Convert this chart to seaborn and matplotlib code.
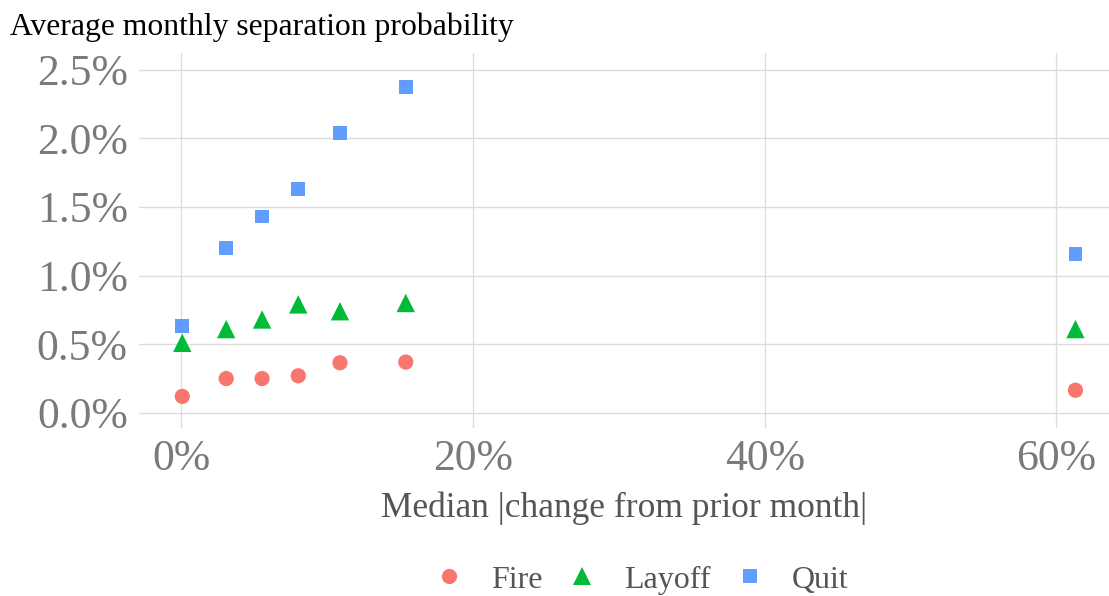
"""
Separation probability vs. median absolute monthly change
"""

import numpy as np
import pandas as pd
import matplotlib
matplotlib.use("Agg")
import matplotlib.pyplot as plt
from matplotlib.ticker import FuncFormatter
import seaborn as sns

# ---------------------------------------------------------------------------
# Data (in percent)
# ---------------------------------------------------------------------------
median_change = [0.07, 3.08, 5.54, 8.02, 10.88, 15.39, 61.3]
fire = [0.12, 0.25, 0.25, 0.27, 0.365, 0.37, 0.165]
layoff = [0.51, 0.61, 0.68, 0.79, 0.74, 0.80, 0.61]
quit_ = [0.63, 1.20, 1.43, 1.63, 2.04, 2.37, 1.155]
types = ["Fire", "Layoff", "Quit"]

df = pd.DataFrame({
    "x": median_change * 3,
    "y": fire + layoff + quit_,
    "type": np.repeat(types, len(median_change)),
})

palette = {"Fire": "#F8766D", "Layoff": "#00BA38", "Quit": "#619CFF"}
markers = {"Fire": "o", "Layoff": "^", "Quit": "s"}
sizes = {"Fire": 120, "Layoff": 175, "Quit": 100}

# ---------------------------------------------------------------------------
# Plot
# ---------------------------------------------------------------------------
sns.set_theme(style="whitegrid")
plt.rcParams["font.family"] = ["Liberation Serif", "DejaVu Serif"]

fig = plt.figure(figsize=(11.09, 5.96), dpi=100)
ax = fig.add_axes([0.1253, 0.2819, 0.8747, 0.6291])

sns.scatterplot(data=df, x="x", y="y", hue="type", style="type", size="type",
                palette=palette, markers=markers, sizes=sizes,
                linewidth=0, ax=ax, legend=True)

ax.set_xlim(-2.9, 63.6)
ax.set_ylim(-0.11, 2.62)
ax.set_xticks([0, 20, 40, 60])
ax.set_yticks([0, 0.5, 1.0, 1.5, 2.0, 2.5])
ax.xaxis.set_major_formatter(FuncFormatter(lambda v, p: f"{v:.0f}%"))
ax.yaxis.set_major_formatter(FuncFormatter(lambda v, p: f"{v:.1f}%"))
ax.tick_params(axis="both", labelsize=31.5, colors="#7a7a7a", length=0)
ax.tick_params(axis="x", pad=8)
ax.tick_params(axis="y", pad=8)
ax.grid(True, color="#dcdcdc", linewidth=1.0)
for s in ax.spines.values():
    s.set_visible(False)

ax.set_xlabel("Median |change from prior month|", fontsize=25.5, color="#555555",
              labelpad=9)
ax.set_ylabel("")

fig.text(0.009, 0.955, "Average monthly separation probability", fontsize=22.8,
         color="black", ha="left", va="center")

handles, labels = ax.get_legend_handles_labels()
ax.get_legend().remove()
pairs = [(h, l) for h, l in zip(handles, labels) if l in types]
leg = fig.legend([h for h, _ in pairs], [l for _, l in pairs],
                 loc="center", bbox_to_anchor=(0.578, 0.027), ncol=3,
                 frameon=False, fontsize=23, handlelength=1.0,
                 handletextpad=0.8, columnspacing=0.75, markerscale=1.0)
for t in leg.get_texts():
    t.set_color("#555555")

plt.savefig("out.png", dpi=100)
plt.close()
